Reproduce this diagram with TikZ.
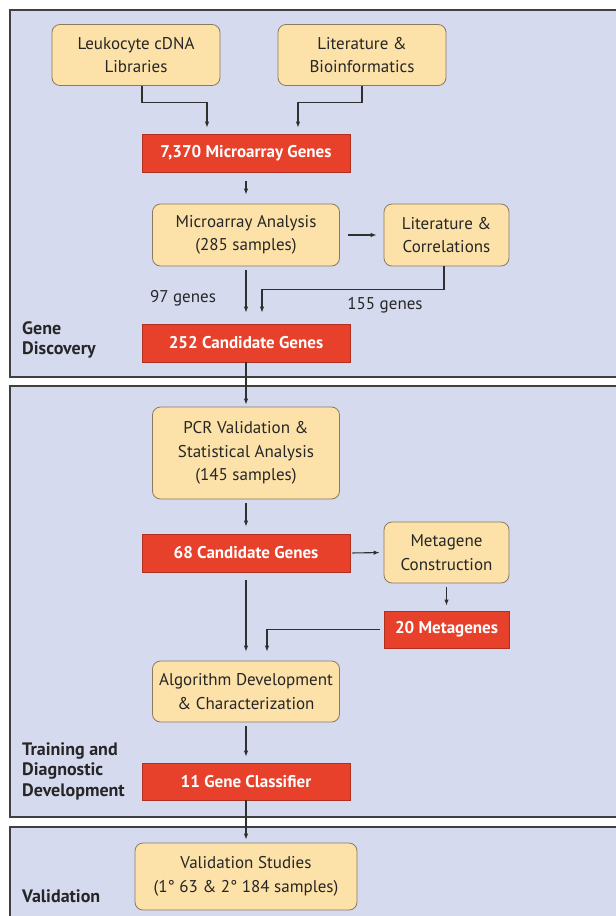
\documentclass[tikz,border=0pt]{standalone}
\usepackage{fontspec}
\setmainfont{PT Sans}
\usetikzlibrary{arrows.meta}
\definecolor{panelfill}{HTML}{D6DAEE}
\definecolor{panelline}{HTML}{404040}
\definecolor{boxfill}{HTML}{FCE1A8}
\definecolor{boxline}{HTML}{8A7A60}
\definecolor{redfill}{HTML}{E8412B}
\definecolor{redline}{HTML}{B03020}
\definecolor{arrline}{HTML}{303030}
\tikzset{
  panel/.style={fill=panelfill,draw=panelline,line width=1.2pt},
  procbox/.style={draw=boxline,fill=boxfill,rounded corners=8pt,line width=0.8pt,
    align=center,inner sep=0pt,font=\fontsize{17}{23.5}\selectfont,text=black!85},
  genebox/.style={draw=redline,fill=redfill,line width=0.8pt,minimum width=208pt,minimum height=38pt,
    inner sep=0pt,font=\fontsize{17}{20}\selectfont\bfseries,text=white},
  arr/.style={draw=arrline,line width=1.1pt,-{Latex[length=6pt,width=4.5pt]}},
  phase/.style={font=\fontsize{18}{20.5}\selectfont\bfseries,align=left,anchor=north west,inner sep=0pt,text=black!85},
  lbl/.style={font=\fontsize{17}{20}\selectfont,text=black!85,inner sep=0pt}
}
\begin{document}
\begin{tikzpicture}[x=1pt,y=-1pt]
\clip (0,0) rectangle (616,916);
\fill[white] (0,0) rectangle (616,916);
% panels
\draw[panel] (10,10) rectangle (630,377);
\draw[panel] (10,386) rectangle (630,817);
\draw[panel] (10,827) rectangle (630,930);
% phase labels
\node[phase] (ph1) at (22,321) {Gene\\Discovery};
\node[phase] (ph2) at (22,742) {Training and\\Diagnostic\\Development};
\node[phase] (ph3) at (22,889) {Validation};
% boxes
\node[procbox,minimum width=168pt,minimum height=61pt] (leuk) at (136,55) {Leukocyte cDNA\\Libraries};
\node[procbox,minimum width=168pt,minimum height=61pt] (lit) at (362,55) {Literature \&\\Bioinformatics};
\node[genebox] (mag) at (246,153) {7,370 Microarray Genes};
\node[procbox,minimum width=187pt,minimum height=62pt] (ma) at (246,235) {Microarray Analysis\\(285 samples)};
\node[procbox,minimum width=125pt,minimum height=62pt] (lc) at (446.5,235) {Literature \&\\Correlations};
\node[genebox] (cand) at (246,343) {252 Candidate Genes};
\node[procbox,minimum width=187pt,minimum height=92pt] (pcr) at (246,453) {PCR Validation \&\\Statistical Analysis\\(145 samples)};
\node[genebox] (c68) at (246,553) {68 Candidate Genes};
\node[procbox,minimum width=125pt,minimum height=61pt] (meta) at (446.5,552.5) {Metagene\\Construction};
\node[genebox,minimum width=125pt,minimum height=37pt] (m20) at (446.5,629.5) {20 Metagenes};
\node[procbox,minimum width=187pt,minimum height=61pt] (alg) at (246,691.5) {Algorithm Development\\\& Characterization};
\node[genebox,minimum height=37pt] (gc) at (246,781.5) {11 Gene Classifier};
\node[procbox,minimum width=222pt,minimum height=67pt] (val) at (246,876.5) {Validation Studies\\(1° 63 \& 2° 184 samples)};
% labels
\node[lbl] (l97) at (183,298) {97 genes};
\node[lbl] (l155) at (385,305) {155 genes};
% connectors
\draw[arr,shorten >=6pt] ([xshift=6pt]leuk.south) -- ++(0,17) -| ([xshift=-39pt]mag.north);
\draw[arr,shorten >=6pt] (lit.south) -- ++(0,17) -| ([xshift=52pt]mag.north);
\draw[arr,shorten <=9pt,shorten >=9pt] (mag.south) -- (ma.north);
\draw[arr,shorten <=8pt,shorten >=7pt] (ma.east) -- (lc.west);
\draw[arr,shorten <=4pt,shorten >=11pt] (ma.south) -- (cand.north);
\draw[arr,shorten >=11pt] ([xshift=-2.5pt]lc.south) -- ++(0,23) -| ([xshift=16pt]cand.north);
\draw[arr,shorten >=2pt] (cand.south) -- (pcr.north);
\draw[arr,shorten <=4pt,shorten >=7pt] (pcr.south) -- (c68.north);
\draw[arr,shorten <=2pt,shorten >=4pt] (c68.east) -- (meta.west);
\draw[arr,shorten <=4pt,shorten >=5pt] (meta.south) -- (m20.north);
\draw[arr,shorten <=8pt,shorten >=9pt] (c68.south) -- (alg.north);
\draw[arr,shorten <=4pt,shorten >=9pt] (m20.west) -| ([xshift=21pt]alg.north);
\draw[arr,shorten <=4pt,shorten >=6pt] (alg.south) -- (gc.north);
\draw[arr,shorten >=3pt] (gc.south) -- (val.north);
\end{tikzpicture}
\end{document}
